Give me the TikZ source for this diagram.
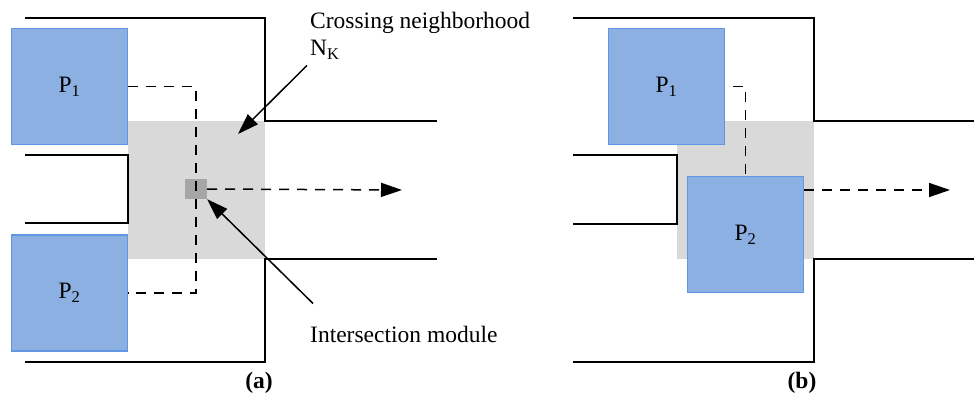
\documentclass[tikz,border=0pt]{standalone}
\usepackage{fontspec}
\setmainfont{Liberation Serif}
\usetikzlibrary{arrows.meta}
\definecolor{padblue}{RGB}{141,176,227}
\definecolor{padedge}{RGB}{98,151,226}
\definecolor{zonegray}{RGB}{217,217,217}
\definecolor{modgray}{RGB}{166,166,166}

\begin{document}
\begin{tikzpicture}[x=1pt,y=-1pt,
  wall/.style={line width=1.6pt},
  pad/.style={draw=padedge,fill=padblue,line width=1.4pt,minimum width=116pt,minimum height=116pt,inner sep=0pt,font=\fontsize{23.5}{27}\selectfont},
  zone/.style={fill=zonegray,minimum width=137pt,minimum height=138pt,inner sep=0pt},
  route/.style={dash pattern=on 10pt off 8pt,line width=1.5pt},
  headed/.style={-{Triangle[length=21pt,width=14pt]}},
  pointer/.style={line width=1.5pt,headed},
  lbl/.style={inner sep=0pt,font=\fontsize{23.5}{27}\selectfont}]
\useasboundingbox (0,0) rectangle (974,401);

% (a)
\node[zone] (nbA) at (196.5,190) {};
\draw[wall] (25,18) -- (265,18) -- (265,121) -- (437,121);
\draw[wall] (25,155) -- (128,155) -- (128,223) -- (25,223);
\draw[wall] (25,362) -- (265,362) -- (265,259) -- (437,259);
\node[pad] (p1A) at (69.5,86.5) {P\textsubscript{1}};
\node[pad] (p2A) at (69.5,293) {P\textsubscript{2}};
\node[fill=modgray,minimum width=22pt,minimum height=20pt,inner sep=0pt] (modA) at (196,189) {};
\draw[route] (p1A.east) -- (p1A.east -| modA) -- (p2A.east -| modA) -- (p2A.east);
\coordinate (goA) at (402,190);
\draw[route,headed] (modA.east) -- (goA);

\node[lbl,anchor=north west,align=left] (crossLbl) at (310,12) {Crossing neighborhood\\N\textsubscript{K}};
\coordinate (nbTip) at (238,134);
\draw[pointer] ([shift={(-3,6)}]crossLbl.south west) -- (nbTip);
\node[lbl,anchor=base west] (modLbl) at (310,342) {Intersection module};
\draw[pointer] ([shift={(3,-22)}]modLbl.north west) -- (modA.south east);
\node[lbl,font=\fontsize{23.5}{27}\selectfont\bfseries,anchor=base] (capA) at (259,388) {(a)};

% (b)
\node[zone] (nbB) at (745.5,190) {};
\draw[wall] (573,18) -- (814,18) -- (814,121) -- (974,121);
\draw[wall] (573,155) -- (677,155) -- (677,224) -- (573,224);
\draw[wall] (573,362) -- (814,362) -- (814,259) -- (974,259);
\node[pad] (p1B) at (666.5,86.5) {P\textsubscript{1}};
\node[pad] (p2B) at (745.5,234.5) {P\textsubscript{2}};
\draw[route] ([xshift=8pt]p1B.east) -| (p2B.north);
\coordinate (goB) at (950,190);
\draw[route,headed] (p2B.east |- goB) -- (goB);
\node[lbl,font=\fontsize{23.5}{27}\selectfont\bfseries,anchor=base] (capB) at (802,388) {(b)};
\end{tikzpicture}
\end{document}
